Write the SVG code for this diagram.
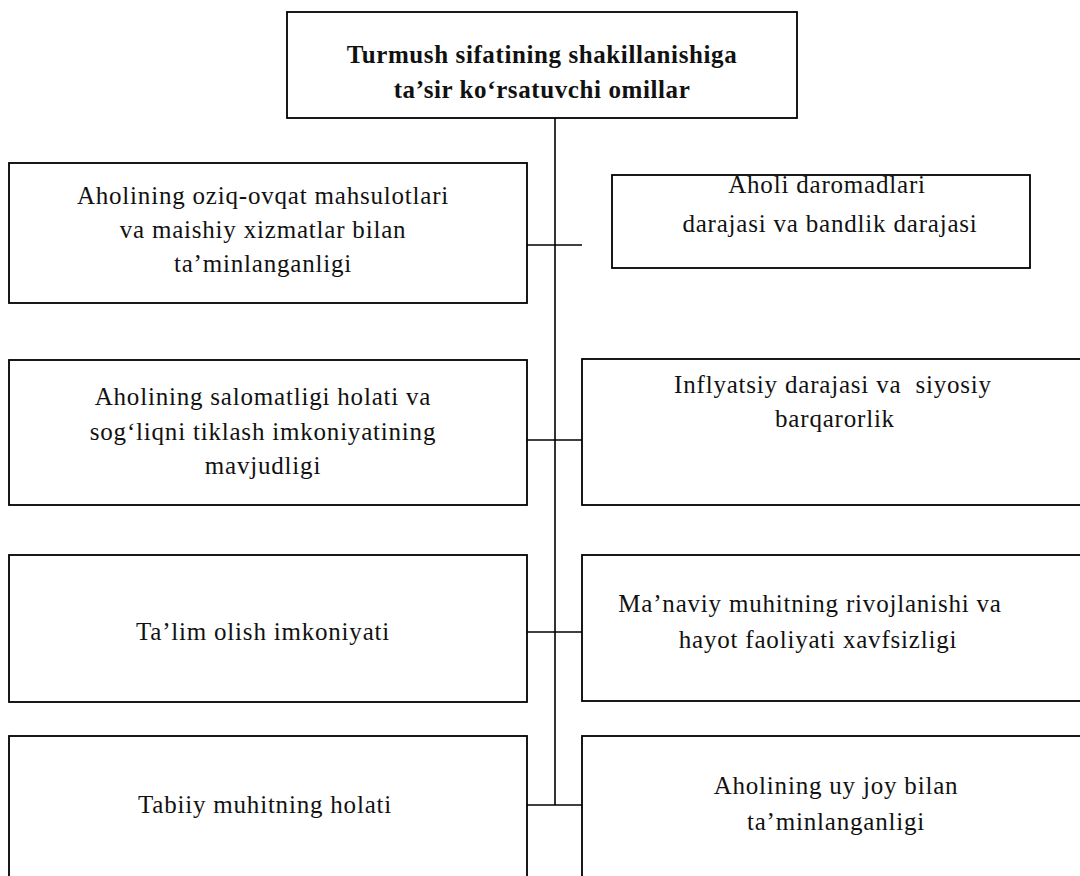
<svg xmlns="http://www.w3.org/2000/svg" width="1080" height="876" viewBox="0 0 1080 876">
<style>
.box{fill:#fff;stroke:#000;stroke-width:1.8}
.t{font-family:"Liberation Serif","Times New Roman",serif;font-size:25px;letter-spacing:0.8px;fill:#111;text-anchor:middle}
.b{font-weight:bold;font-size:25px;letter-spacing:0.6px}
.c{stroke:#000;stroke-width:1.6;fill:none}
</style>
<rect width="1080" height="876" fill="#fff"/>
<g id="connectors">
<line class="c" x1="555" y1="118" x2="555" y2="805"/>
<line class="c" x1="527" y1="245" x2="582" y2="245"/>
<line class="c" x1="527" y1="440" x2="582" y2="440"/>
<line class="c" x1="527" y1="632" x2="582" y2="632"/>
<line class="c" x1="527" y1="805" x2="582" y2="805"/>
</g>
<g id="top">
<rect class="box" x="287" y="12" width="510" height="106"/>
<text class="t b" x="542" y="63">Turmush sifatining shakillanishiga</text>
<text class="t b" x="542" y="98">ta’sir ko‘rsatuvchi omillar</text>
</g>
<g id="l1">
<rect class="box" x="9" y="163" width="518" height="140"/>
<text class="t" x="263" y="204">Aholining oziq-ovqat mahsulotlari</text>
<text class="t" x="263" y="238">va maishiy xizmatlar bilan</text>
<text class="t" x="263" y="272">ta’minlanganligi</text>
</g>
<g id="r1">
<rect class="box" x="612" y="175" width="418" height="93"/>
<text class="t" x="827" y="193">Aholi daromadlari</text>
<text class="t" x="830" y="232">darajasi va bandlik darajasi</text>
</g>
<g id="l2">
<rect class="box" x="9" y="360" width="518" height="145"/>
<text class="t" x="263" y="405">Aholining salomatligi holati va</text>
<text class="t" x="263" y="440">sog‘liqni tiklash imkoniyatining</text>
<text class="t" x="263" y="474">mavjudligi</text>
</g>
<g id="r2">
<rect class="box" x="582" y="359" width="510" height="146"/>
<text class="t" x="833" y="393">Inflyatsiy darajasi va&#160; siyosiy</text>
<text class="t" x="835" y="427">barqarorlik</text>
</g>
<g id="l3">
<rect class="box" x="9" y="555" width="518" height="147"/>
<text class="t" x="263" y="640">Ta’lim olish imkoniyati</text>
</g>
<g id="r3">
<rect class="box" x="582" y="555" width="510" height="146"/>
<text class="t" x="810" y="612">Ma’naviy muhitning rivojlanishi va</text>
<text class="t" x="818" y="648">hayot faoliyati xavfsizligi</text>
</g>
<g id="l4">
<rect class="box" x="9" y="736" width="518" height="160"/>
<text class="t" x="265" y="813">Tabiiy muhitning holati</text>
</g>
<g id="r4">
<rect class="box" x="582" y="736" width="510" height="160"/>
<text class="t" x="836" y="794">Aholining uy joy bilan</text>
<text class="t" x="836" y="830">ta’minlanganligi</text>
</g>
</svg>
